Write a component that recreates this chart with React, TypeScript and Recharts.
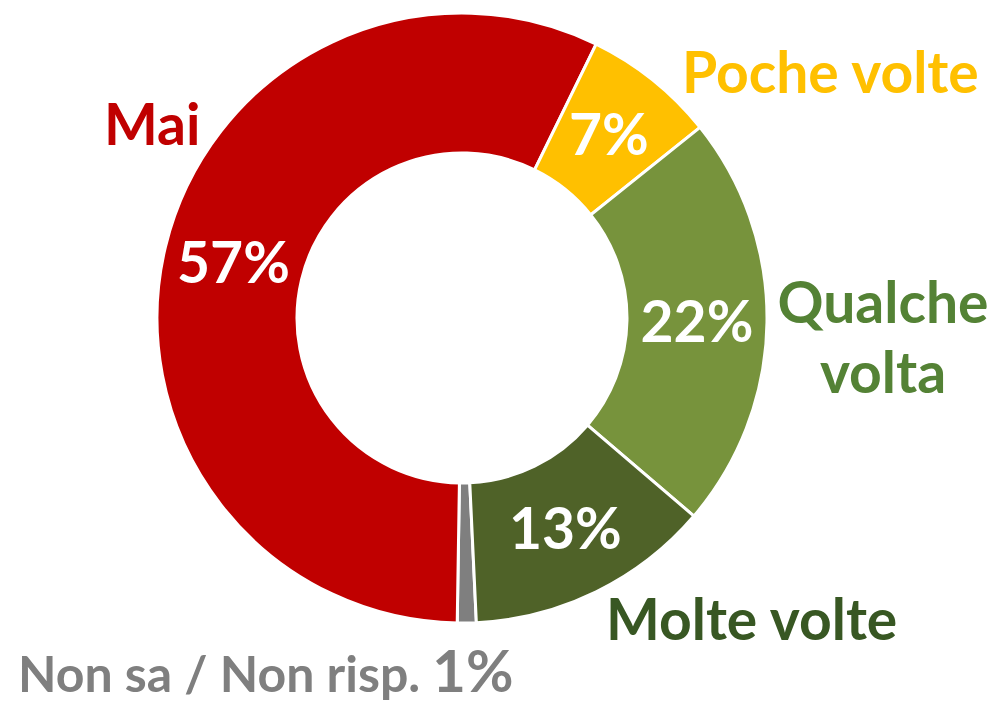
import { PieChart, Pie, Cell } from 'recharts'

// survey answers, clockwise from the bottom of the ring
const categories = ['Non sa / Non risp.', 'Mai', 'Poche volte', 'Qualche volta', 'Molte volte']
const values = [1, 57, 7, 22, 13]
const sliceColors = ['#7F7F7F', '#C00000', '#FFC000', '#77933C', '#4F6228']
const labelColors = ['#7F7F7F', '#C00000', '#FFC000', '#548235', '#385723']

const data = categories.map((name, i) => ({ name, value: values[i] }))

const FONT = 'Lato, "Open Sans", sans-serif'
const SIZE = 57
const RAD = Math.PI / 180

// where the category names sit (text only)
const namePos: Record<string, { x: number; y: number; anchor: 'start' | 'middle' }[]> = {
  Mai: [{ x: 104, y: 145, anchor: 'start' }],
  'Poche volte': [{ x: 682, y: 93, anchor: 'start' }],
  'Qualche volta': [
    { x: 883, y: 323, anchor: 'middle' },
    { x: 883, y: 393, anchor: 'middle' },
  ],
  'Molte volte': [{ x: 606, y: 640, anchor: 'start' }],
}

function renderLabel(props: any) {
  const { cx, cy, midAngle, innerRadius, outerRadius, index } = props
  const name = categories[index]
  const color = labelColors[index]
  const pct = `${values[index]}%`

  if (index === 0) {
    return (
      <text x={18} y={692} fill={color} fontFamily={FONT} fontWeight={700} fontSize={50}>
        {name}{' '}
        <tspan fontSize={58}>{pct}</tspan>
      </text>
    )
  }

  const r = (innerRadius + outerRadius) / 2
  const x = cx + r * Math.cos(-midAngle * RAD)
  const y = cy + r * Math.sin(-midAngle * RAD)
  const lines = name === 'Qualche volta' ? ['Qualche', 'volta'] : [name]

  return (
    <g>
      <text
        x={x}
        y={y + 20}
        fill="#ffffff"
        textAnchor="middle"
        fontFamily={FONT}
        fontWeight={700}
        fontSize={SIZE}
      >
        {pct}
      </text>
      {namePos[name].map((p, i) => (
        <text
          key={i}
          x={p.x}
          y={p.y}
          fill={color}
          textAnchor={p.anchor}
          fontFamily={FONT}
          fontWeight={700}
          fontSize={SIZE}
        >
          {lines[i]}
        </text>
      ))}
    </g>
  )
}

export default function App() {
  return (
    <div style={{ position: 'absolute', left: 0, top: 0, width: 999, height: 705, background: '#fff' }}>
      <PieChart width={999} height={705} margin={{ top: 0, right: 0, bottom: 0, left: 0 }}>
        <Pie
          data={data}
          dataKey="value"
          nameKey="name"
          cx={462}
          cy={318}
          innerRadius={165}
          outerRadius={305}
          startAngle={-87.3}
          endAngle={-447.3}
          stroke="#ffffff"
          strokeWidth={3}
          label={renderLabel}
          labelLine={false}
          isAnimationActive={false}
        >
          {data.map((entry, index) => (
            <Cell key={`cell-${index}`} fill={sliceColors[index]} />
          ))}
        </Pie>
      </PieChart>
    </div>
  )
}
